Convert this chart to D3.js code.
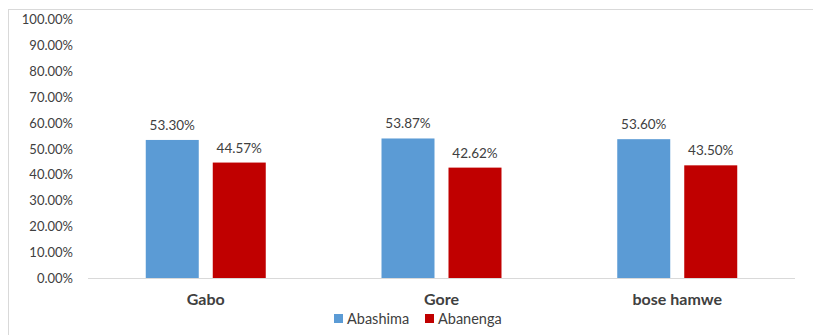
<!DOCTYPE html>
<html>
<head>
<meta charset="utf-8">
<script src="https://cdn.jsdelivr.net/npm/d3@7"></script>
<style>
  body { margin: 0; background: #fff; }
  text { font-family: Lato, "Open Sans", sans-serif; fill: #404040; }
</style>
</head>
<body>
<svg id="chart" width="813" height="335"></svg>
<script>
// data
var categories = ["Gabo", "Gore", "bose hamwe"];
var seriesNames = ["Abashima", "Abanenga"];
var abashima = [0.5330, 0.5387, 0.5360];
var abanenga = [0.4457, 0.4262, 0.4350];
var yTicks = [0, 0.1, 0.2, 0.3, 0.4, 0.5, 0.6, 0.7, 0.8, 0.9, 1.0];
var colors = ["#5b9bd5", "#c00000"];

var svg = d3.select("#chart"),
    width = +svg.attr("width"),
    height = +svg.attr("height");

// chart frame (right/bottom edges fall outside the picture)
svg.append("rect")
  .attr("x", 8.5).attr("y", 9.5)
  .attr("width", 830).attr("height", 340)
  .attr("fill", "none")
  .attr("stroke", "#d9d9d9");

var plotLeft = 88, plotRight = 795, plotTop = 19, plotBottom = 278;

var y = d3.scaleLinear().domain([0, 1]).range([plotBottom, plotTop]);

var x0 = d3.scaleBand()
  .domain(categories)
  .range([plotLeft, plotRight])
  .paddingInner(0.491)
  .paddingOuter(0.245);

var x1 = d3.scaleBand()
  .domain(seriesNames)
  .range([0, x0.bandwidth()])
  .paddingInner(0.209);

var rows = categories.map(function(c, i){
  return { cat: c, values: [abashima[i], abanenga[i]] };
});

// y axis labels
var yAxis = d3.axisLeft(y)
  .tickValues(yTicks)
  .tickFormat(function(d){ return (d * 100).toFixed(2) + "%"; })
  .tickSize(0)
  .tickPadding(0);

var gy = svg.append("g")
  .attr("transform", "translate(73,0)")
  .call(yAxis);
gy.select(".domain").remove();
gy.selectAll("text")
  .attr("fill", "#404040")
  .style("font-size", "13px")
  .attr("dy", "0.35em");

// bars
var groups = svg.append("g")
  .selectAll("g")
  .data(rows)
  .enter()
  .append("g")
    .attr("transform", function(d){ return "translate(" + x0(d.cat) + ",0)"; });

groups.selectAll("rect")
  .data(function(d){ return d.values.map(function(v, j){ return { s: seriesNames[j], v: v, j: j }; }); })
  .enter()
  .append("rect")
    .attr("x", function(d){ return x1(d.s); })
    .attr("y", function(d){ return y(d.v); })
    .attr("width", x1.bandwidth())
    .attr("height", function(d){ return plotBottom - y(d.v); })
    .attr("fill", function(d){ return colors[d.j]; });

groups.selectAll("text.val")
  .data(function(d){ return d.values.map(function(v, j){ return { s: seriesNames[j], v: v }; }); })
  .enter()
  .append("text")
    .attr("class", "val")
    .attr("x", function(d){ return x1(d.s) + x1.bandwidth() / 2; })
    .attr("y", function(d){ return y(d.v) - 10; })
    .attr("text-anchor", "middle")
    .style("font-size", "13.5px")
    .text(function(d){ return (d.v * 100).toFixed(2) + "%"; });

// baseline
svg.append("line")
  .attr("x1", plotLeft).attr("x2", plotRight)
  .attr("y1", plotBottom + 0.5).attr("y2", plotBottom + 0.5)
  .attr("stroke", "#d9d9d9");

// category labels
var xAxis = d3.axisBottom(x0).tickSize(0).tickPadding(0);
var gx = svg.append("g")
  .attr("transform", "translate(0," + (plotBottom + 21) + ")")
  .call(xAxis);
gx.select(".domain").remove();
gx.selectAll("text")
  .attr("fill", "#262626")
  .style("font-size", "16px")
  .style("font-weight", "bold")
  .attr("dy", "0.35em");

// legend
var legendX = [334, 425];
var legend = svg.append("g")
  .selectAll("g")
  .data(seriesNames)
  .enter()
  .append("g")
    .attr("transform", function(d, i){ return "translate(" + legendX[i] + ",314)"; });

legend.append("rect")
  .attr("width", 9).attr("height", 9)
  .attr("fill", function(d, i){ return colors[i]; });

legend.append("text")
  .attr("x", 13)
  .attr("y", 4.5)
  .attr("dy", "0.35em")
  .style("font-size", "14.5px")
  .text(function(d){ return d; });
</script>
</body>
</html>
